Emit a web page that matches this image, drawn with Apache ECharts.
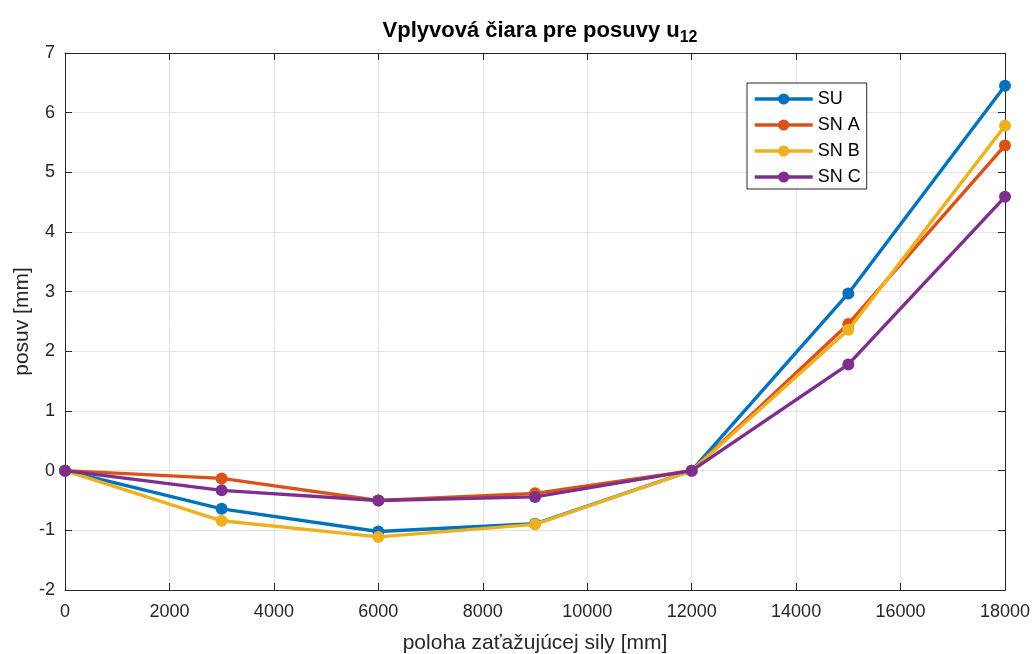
<!DOCTYPE html>
<html>
<head>
<meta charset="utf-8">
<script src="https://cdn.jsdelivr.net/npm/echarts@6/dist/echarts.min.js"></script>
<style>html,body{margin:0;padding:0;background:#fff;}#c{width:1034px;height:654px;}</style>
</head>
<body>
<div id="c"></div>
<script>
const positions = [0, 3000, 6000, 9000, 12000, 15000, 18000];
const seriesNames = ['SU', 'SN A', 'SN B', 'SN C'];
const suValues = [0, -0.64, -1.02, -0.89, 0, 2.97, 6.45];
const snAValues = [0, -0.13, -0.50, -0.38, 0, 2.46, 5.45];
const snBValues = [0, -0.84, -1.11, -0.90, 0, 2.36, 5.78];
const snCValues = [0, -0.33, -0.50, -0.44, 0, 1.78, 4.59];
const colors = ['#0072BD', '#D95319', '#EDB120', '#7E2F8E'];

const allValues = [suValues, snAValues, snBValues, snCValues];
const chart = echarts.init(document.getElementById('c'), null, {renderer: 'canvas'});
const fontFam = 'Helvetica, Arial, "Liberation Sans", sans-serif';
const axisCol = '#262626';

const series = seriesNames.map((n, i) => ({
  name: n,
  type: 'line',
  data: positions.map((p, j) => [p, allValues[i][j]]),
  symbol: 'circle',
  symbolSize: 12,
  lineStyle: {width: 3.4, color: colors[i]},
  itemStyle: {color: colors[i]},
  z: 2 + i,
  animation: false
}));

const commonX = {
  type: 'value', min: 0, max: 18000, interval: 2000,
  axisLine: {show: true, onZero: false, lineStyle: {color: axisCol, width: 1}},
  axisTick: {show: true, inside: true, length: 7, lineStyle: {color: axisCol}},
};
const commonY = {
  type: 'value', min: -2, max: 7, interval: 1,
  axisLine: {show: true, onZero: false, lineStyle: {color: axisCol, width: 1}},
  axisTick: {show: true, inside: true, length: 7, lineStyle: {color: axisCol}},
};

chart.setOption({
  backgroundColor: '#ffffff',
  animation: false,
  title: {
    text: '{m|Vplyvová čiara pre posuvy u}{s|12}',
    left: 535, top: 11, textAlign: 'center',
    textStyle: {
      rich: {
        m: {fontFamily: fontFam, fontWeight: 'bold', fontSize: 22, color: '#000'},
        s: {fontFamily: fontFam, fontWeight: 'bold', fontSize: 16, color: '#000', verticalAlign: 'bottom', padding: [14, 0, 0, 0]}
      }
    }
  },
  grid: {left: 65, right: 29, top: 53, bottom: 64, containLabel: false, outerBoundsMode: 'none'},
  legend: {
    orient: 'vertical', left: 747, top: 83,
    data: seriesNames,
    backgroundColor: '#ffffff', borderColor: axisCol, borderWidth: 1, borderRadius: 0,
    padding: [7, 6, 3, 6],
    itemWidth: 58, itemHeight: 14, itemGap: 8,
    lineStyle: {width: 3.4},
    textStyle: {fontFamily: fontFam, fontSize: 18, color: '#000'}
  },
  xAxis: [
    Object.assign({}, commonX, {
      position: 'bottom',
      name: 'poloha zaťažujúcej sily [mm]', nameLocation: 'middle', nameGap: 43,
      nameTextStyle: {fontFamily: fontFam, fontSize: 21, color: axisCol},
      axisLabel: {fontFamily: fontFam, fontSize: 18, color: axisCol, margin: 13, formatter: v => String(v)},
      splitLine: {show: true, lineStyle: {color: '#e3e3e3', width: 1}}
    }),
    Object.assign({}, commonX, {
      position: 'top',
      axisLabel: {show: false},
      splitLine: {show: false}
    })
  ],
  yAxis: [
    Object.assign({}, commonY, {
      position: 'left',
      name: 'posuv [mm]', nameLocation: 'middle', nameGap: 32, nameRotate: 90,
      nameMoveOverlap: false,
      nameTextStyle: {fontFamily: fontFam, fontSize: 21, color: axisCol},
      axisLabel: {fontFamily: fontFam, fontSize: 18, color: axisCol, margin: 10, formatter: v => String(v)},
      splitLine: {show: true, lineStyle: {color: '#e3e3e3', width: 1}}
    }),
    Object.assign({}, commonY, {
      position: 'right',
      axisLabel: {show: false},
      splitLine: {show: false}
    })
  ],
  series: series
});
</script>
</body>
</html>
